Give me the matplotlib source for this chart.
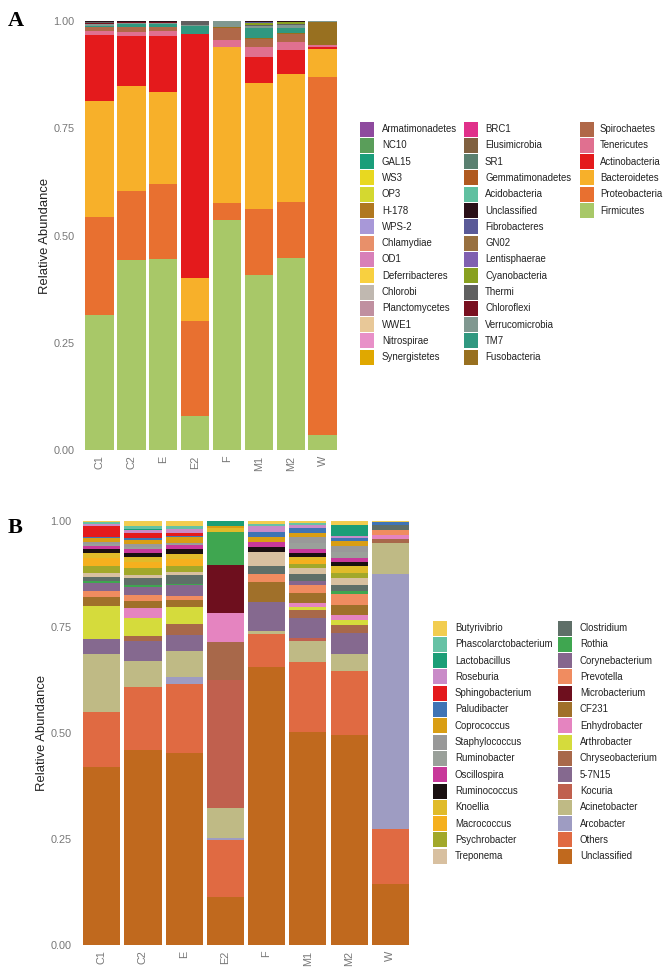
import numpy as np
import matplotlib
matplotlib.use("Agg")
import matplotlib.pyplot as plt
from matplotlib.patches import Rectangle

plt.rcParams['font.family'] = ['Liberation Sans', 'DejaVu Sans']

samples = ["C1", "C2", "E", "E2", "F", "M1", "M2", "W"]

# ---- panel A: phylum level (legend order, column-major) ----
a_taxa = ["Armatimonadetes", "NC10", "GAL15", "WS3", "OP3", "H-178", "WPS-2",
          "Chlamydiae", "OD1", "Deferribacteres", "Chlorobi", "Planctomycetes",
          "WWE1", "Nitrospirae", "Synergistetes",
          "BRC1", "Elusimicrobia", "SR1", "Gemmatimonadetes", "Acidobacteria",
          "Unclassified", "Fibrobacteres", "GN02", "Lentisphaerae", "Cyanobacteria",
          "Thermi", "Chloroflexi", "Verrucomicrobia", "TM7", "Fusobacteria",
          "Spirochaetes", "Tenericutes", "Actinobacteria", "Bacteroidetes",
          "Proteobacteria", "Firmicutes"]
a_colors = ["#8E4A9E", "#5A9E5A", "#1A9E7A", "#E8D820", "#D4D830", "#B07820", "#A898D8",
            "#E8906A", "#D880B8", "#F8D040", "#C0B8B0", "#C090A0", "#E8C898", "#E890C8",
            "#E0A800",
            "#E0308A", "#806040", "#5A8070", "#B05A20", "#60C0A0", "#2A1018", "#5A5A98",
            "#987040", "#8060B0", "#88A020", "#606060", "#781020", "#809890", "#309880",
            "#987020",
            "#B06848", "#E07090", "#E41A1C", "#F7B02A", "#E87030", "#A8C868"]

a_firmicutes = [0.315, 0.445, 0.445, 0.08, 0.535, 0.41, 0.45, 0.035]
a_proteobacteria = [0.23, 0.16, 0.175, 0.22, 0.04, 0.155, 0.13, 0.835]
a_bacteroidetes = [0.27, 0.245, 0.215, 0.10, 0.365, 0.295, 0.30, 0.065]
a_actinobacteria = [0.155, 0.118, 0.13, 0.57, 0.0, 0.06, 0.055, 0.005]
a_tenericutes = [0.008, 0.01, 0.012, 0.0, 0.015, 0.025, 0.02, 0.003]
a_spirochaetes = [0.01, 0.01, 0.01, 0.0, 0.028, 0.017, 0.018, 0.0]
a_fusobacteria = [0.0, 0.002, 0.0, 0.0, 0.002, 0.003, 0.003, 0.055]
a_tm7 = [0.003, 0.005, 0.006, 0.018, 0.002, 0.023, 0.01, 0.0]
a_verrucomicrobia = [0.004, 0.004, 0.004, 0.002, 0.013, 0.005, 0.008, 0.002]
a_chloroflexi = [0.003, 0.001, 0.002, 0.0, 0.0, 0.0, 0.0, 0.0]
a_thermi = [0.002, 0.0, 0.0, 0.01, 0.0, 0.003, 0.003, 0.0]
a_cyanobacteria = [0.0, 0.001, 0.0, 0.0, 0.0, 0.004, 0.004, 0.0]
a_fibrobacteres = [0.0, 0.0, 0.0, 0.0, 0.0, 0.003, 0.0, 0.0]
a_unclassified = [0.002, 0.002, 0.002, 0.0, 0.0, 0.002, 0.002, 0.0]

a_values = {
    "Firmicutes": a_firmicutes, "Proteobacteria": a_proteobacteria,
    "Bacteroidetes": a_bacteroidetes, "Actinobacteria": a_actinobacteria,
    "Tenericutes": a_tenericutes, "Spirochaetes": a_spirochaetes,
    "Fusobacteria": a_fusobacteria, "TM7": a_tm7, "Verrucomicrobia": a_verrucomicrobia,
    "Chloroflexi": a_chloroflexi, "Thermi": a_thermi, "Cyanobacteria": a_cyanobacteria,
    "Fibrobacteres": a_fibrobacteres, "Unclassified": a_unclassified,
}

# ---- panel B: genus level ----
b_taxa = ["Butyrivibrio", "Phascolarctobacterium", "Lactobacillus", "Roseburia",
          "Sphingobacterium", "Paludibacter", "Coprococcus", "Staphylococcus",
          "Ruminobacter", "Oscillospira", "Ruminococcus", "Knoellia", "Macrococcus",
          "Psychrobacter", "Treponema",
          "Clostridium", "Rothia", "Corynebacterium", "Prevotella", "Microbacterium",
          "CF231", "Enhydrobacter", "Arthrobacter", "Chryseobacterium", "5-7N15",
          "Kocuria", "Acinetobacter", "Arcobacter", "Others", "Unclassified"]
b_colors = ["#F2CD50", "#66C2A5", "#1B9E77", "#C98BC8", "#E41A1C", "#3F74B5", "#D99E14",
            "#999999", "#9AA09A", "#C8389A", "#1A1010", "#E0BB2A", "#F5B01E", "#A2A82A",
            "#D8C0A0",
            "#5F6F68", "#3FA650", "#86668E", "#F08C60", "#6E0F1E", "#A0702A", "#E584C0",
            "#D5DB3C", "#A8684A", "#85698F", "#C0604E", "#BFBA85", "#9E9CC2", "#E06A42",
            "#C0691E"]

b_unclassified = [0.42, 0.456, 0.455, 0.113, 0.656, 0.50, 0.49, 0.143]
b_others = [0.13, 0.149, 0.164, 0.134, 0.076, 0.165, 0.15, 0.13]
b_arcobacter = [0.0, 0.0, 0.016, 0.005, 0.0, 0.0, 0.0, 0.602]
b_acinetobacter = [0.137, 0.061, 0.061, 0.07, 0.009, 0.048, 0.04, 0.073]
b_kocuria = [0.0, 0.0, 0.0, 0.30, 0.0, 0.009, 0.0, 0.0]
b_5_7n15 = [0.035, 0.047, 0.038, 0.0, 0.068, 0.045, 0.049, 0.0]
b_chryseobacterium = [0.0, 0.012, 0.026, 0.09, 0.0, 0.019, 0.019, 0.01]
b_arthrobacter = [0.078, 0.042, 0.04, 0.0, 0.0, 0.008, 0.012, 0.0]
b_enhydrobacter = [0.0, 0.023, 0.002, 0.067, 0.0, 0.01, 0.011, 0.01]
b_cf231 = [0.02, 0.017, 0.015, 0.0, 0.047, 0.023, 0.023, 0.0]
b_microbacterium = [0.0, 0.0, 0.0, 0.114, 0.0, 0.0, 0.0, 0.0]
b_prevotella = [0.015, 0.013, 0.01, 0.0, 0.019, 0.019, 0.026, 0.01]
b_corynebacterium = [0.018, 0.02, 0.027, 0.0, 0.0, 0.01, 0.0, 0.0]
b_rothia = [0.005, 0.005, 0.002, 0.076, 0.0, 0.0, 0.006, 0.0]
b_clostridium = [0.01, 0.015, 0.02, 0.0, 0.019, 0.015, 0.014, 0.012]
b_treponema = [0.01, 0.008, 0.008, 0.0, 0.031, 0.015, 0.017, 0.0]
b_psychrobacter = [0.015, 0.015, 0.015, 0.0, 0.0, 0.008, 0.011, 0.0]
b_macrococcus = [0.02, 0.015, 0.015, 0.0, 0.0, 0.01, 0.0, 0.0]
b_knoellia = [0.012, 0.012, 0.012, 0.01, 0.0, 0.008, 0.018, 0.0]
b_ruminococcus = [0.008, 0.01, 0.012, 0.0, 0.012, 0.008, 0.009, 0.0]
b_oscillospira = [0.008, 0.008, 0.01, 0.0, 0.012, 0.01, 0.009, 0.0]
b_ruminobacter = [0.005, 0.006, 0.003, 0.0, 0.0, 0.014, 0.014, 0.0]
b_staphylococcus = [0.005, 0.005, 0.003, 0.0, 0.0, 0.014, 0.014, 0.0]
b_coprococcus = [0.008, 0.01, 0.012, 0.005, 0.013, 0.01, 0.011, 0.0]
b_paludibacter = [0.004, 0.004, 0.003, 0.0, 0.012, 0.012, 0.008, 0.007]
b_sphingobacterium = [0.025, 0.012, 0.008, 0.0, 0.0, 0.0, 0.0, 0.0]
b_roseburia = [0.004, 0.008, 0.008, 0.0, 0.013, 0.006, 0.005, 0.0]
b_lactobacillus = [0.002, 0.003, 0.002, 0.012, 0.0, 0.0, 0.025, 0.0]
b_phascolarctobacterium = [0.004, 0.006, 0.006, 0.0, 0.006, 0.006, 0.0, 0.0]
b_butyrivibrio = [0.002, 0.012, 0.012, 0.0, 0.006, 0.004, 0.009, 0.003]

b_values = {
    "Unclassified": b_unclassified, "Others": b_others, "Arcobacter": b_arcobacter,
    "Acinetobacter": b_acinetobacter, "Kocuria": b_kocuria, "5-7N15": b_5_7n15,
    "Chryseobacterium": b_chryseobacterium, "Arthrobacter": b_arthrobacter,
    "Enhydrobacter": b_enhydrobacter, "CF231": b_cf231, "Microbacterium": b_microbacterium,
    "Prevotella": b_prevotella, "Corynebacterium": b_corynebacterium, "Rothia": b_rothia,
    "Clostridium": b_clostridium, "Treponema": b_treponema, "Psychrobacter": b_psychrobacter,
    "Macrococcus": b_macrococcus, "Knoellia": b_knoellia, "Ruminococcus": b_ruminococcus,
    "Oscillospira": b_oscillospira, "Ruminobacter": b_ruminobacter,
    "Staphylococcus": b_staphylococcus, "Coprococcus": b_coprococcus,
    "Paludibacter": b_paludibacter, "Sphingobacterium": b_sphingobacterium,
    "Roseburia": b_roseburia, "Lactobacillus": b_lactobacillus,
    "Phascolarctobacterium": b_phascolarctobacterium, "Butyrivibrio": b_butyrivibrio,
}

W, H = 668, 973
fig = plt.figure(figsize=(W / 100, H / 100), dpi=100)


def fx(x):
    return x / W


def fy(y):
    return 1 - y / H


def stacked(ax, taxa, colors, values, pad):
    x = np.arange(len(samples))
    mat = np.array([values.get(t, [0.0] * len(samples)) for t in taxa], dtype=float)
    mat = mat / mat.sum(axis=0)
    bottom = np.zeros(len(samples))
    # first legend entry sits on top, so stack in reverse
    for i in range(len(taxa) - 1, -1, -1):
        ax.bar(x, mat[i], width=0.9, bottom=bottom, color=colors[i], linewidth=0)
        bottom += mat[i]
    ax.set_xlim(-0.6, len(samples) - 0.4)
    ax.set_ylim(0, 1)
    ax.set_xticks(x)
    ax.set_xticklabels(samples, rotation=90, fontsize=7.8, color="#777777")
    ax.set_yticks([0, 0.25, 0.5, 0.75, 1.0])
    ax.set_yticklabels(["0.00", "0.25", "0.50", "0.75", "1.00"], fontsize=7.8, color="#777777")
    ax.tick_params(length=0, pad=4)
    for s in ax.spines.values():
        s.set_visible(False)
    ax.set_ylabel("Relative Abundance", fontsize=9.4, color="#222222", labelpad=pad)


def legend(taxa, colors, xkeys, xtexts, y0, nrow=15, step=16.3):
    for i, (t, c) in enumerate(zip(taxa, colors)):
        col, row = divmod(i, nrow)
        yc = y0 + row * step
        fig.add_artist(Rectangle((fx(xkeys[col]), fy(yc + 7.5)), 14 / W, 15 / H,
                                 transform=fig.transFigure, color=c, linewidth=0))
        fig.text(fx(xtexts[col]), fy(yc), t, va="center", ha="left",
                 fontsize=6.9, color="#222222")


axA = fig.add_axes([fx(80), fy(450), (342 - 80) / W, (450 - 21) / H])
stacked(axA, a_taxa, a_colors, a_values, 1.5)
legend(a_taxa, a_colors, [360, 464, 580], [382, 485, 600], 129)

axB = fig.add_axes([fx(77), fy(945), (415 - 77) / W, (945 - 521) / H])
stacked(axB, b_taxa, b_colors, b_values, 2)
legend(b_taxa, b_colors, [433, 558], [455, 580], 628)

fig.text(fx(8), fy(26), "A", fontsize=16, fontweight="bold",
         family=["Liberation Serif", "DejaVu Serif"], va="baseline")
fig.text(fx(8), fy(533), "B", fontsize=16, fontweight="bold",
         family=["Liberation Serif", "DejaVu Serif"], va="baseline")

fig.savefig("out.png", dpi=100, facecolor="white")
